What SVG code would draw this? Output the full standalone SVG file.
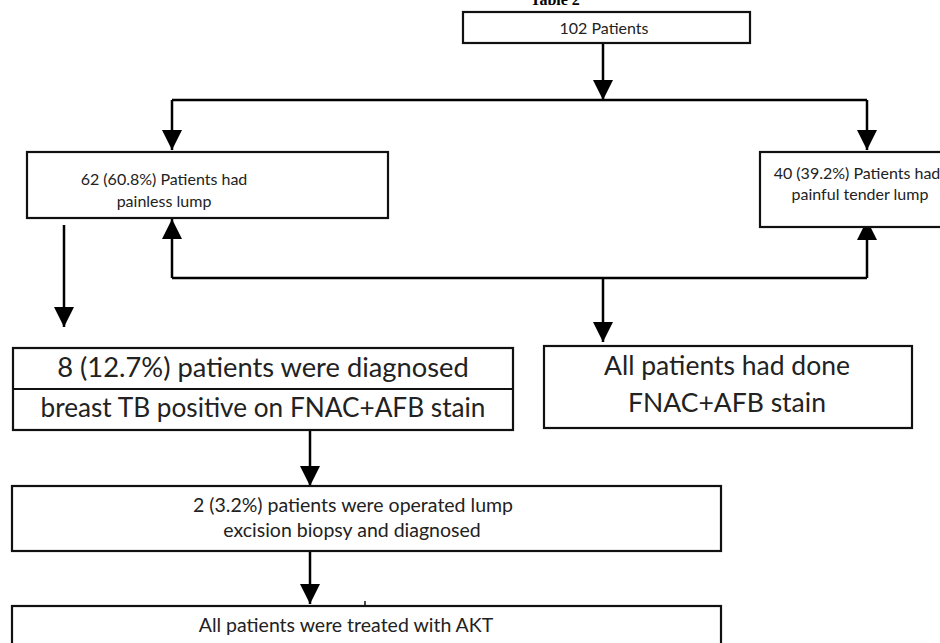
<svg xmlns="http://www.w3.org/2000/svg" width="940" height="643" viewBox="0 0 940 643">
<style>
.box{fill:#fff;stroke:#111;stroke-width:2.2}
.ln{fill:none;stroke:#000;stroke-width:2.5}
.t{font-family:Lato,"Open Sans","Liberation Sans",sans-serif;fill:#222;text-anchor:middle}
.s{font-size:16px}
.m{font-size:19.5px}
.l{font-size:26.5px}
</style>
<defs>
<marker id="arr" viewBox="0 0 20 20" refX="20" refY="10" markerWidth="20" markerHeight="20" markerUnits="userSpaceOnUse" orient="auto">
<path d="M0,0 L20,10 L0,20 Z" fill="#000"/>
</marker>
</defs>
<rect width="940" height="643" fill="#fff"/>
<text x="555" y="5" font-family="Liberation Serif,serif" font-weight="bold" font-size="16" text-anchor="middle" fill="#000">Table 2</text>
<g id="connectors">
<path class="ln" d="M603,43 V100" marker-end="url(#arr)"/>
<path class="ln" d="M172,100 H867"/>
<path class="ln" d="M172,100 V150" marker-end="url(#arr)"/>
<path class="ln" d="M867,100 V150" marker-end="url(#arr)"/>
<path class="ln" d="M172,278 H867"/>
<path class="ln" d="M172,278 V219" marker-end="url(#arr)"/>
<path class="ln" d="M867,278 V220" marker-end="url(#arr)"/>
<path class="ln" d="M603,278 V342" marker-end="url(#arr)"/>
<path class="ln" d="M64,225 V327" marker-end="url(#arr)"/>
<path class="ln" d="M310,430 V486" marker-end="url(#arr)"/>
<path class="ln" d="M310,551 V604" marker-end="url(#arr)"/>
</g>
<g id="n-total">
<rect class="box" x="463" y="12" width="287" height="31"/>
<text class="t s" x="604" y="34">102 Patients</text>
</g>
<g id="n-painless">
<rect class="box" x="27" y="152" width="361" height="66"/>
<text class="t s" x="164" y="185">62 (60.8%) Patients had</text>
<text class="t s" x="164" y="207">painless lump</text>
</g>
<g id="n-painful">
<rect class="box" x="760" y="152" width="200" height="75"/>
<text class="t s" x="857" y="179">40 (39.2%) Patients had</text>
<text class="t s" x="860" y="200">painful tender lump</text>
</g>
<g id="n-positive">
<rect class="box" x="13" y="348" width="500" height="82"/>
<line x1="13" y1="389" x2="513" y2="389" stroke="#111" stroke-width="2"/>
<text class="t l" x="263" y="377" style="font-size:27.3px">8 (12.7%) patients were diagnosed</text>
<text class="t l" x="263" y="417" style="font-size:26.2px">breast TB positive on FNAC+AFB stain</text>
</g>
<g id="n-fnac">
<rect class="box" x="544" y="346" width="368" height="82"/>
<text class="t l" x="727" y="375">All patients had done</text>
<text class="t l" x="727" y="412">FNAC+AFB stain</text>
</g>
<g id="n-operated">
<rect class="box" x="12" y="486" width="709" height="65"/>
<text class="t m" x="353" y="512">2 (3.2%) patients were operated lump</text>
<text class="t m" x="352" y="537">excision biopsy and diagnosed</text>
</g>
<g id="n-akt">
<rect class="box" x="12" y="606" width="709" height="60"/>
<line x1="365" y1="601" x2="365" y2="606" stroke="#111" stroke-width="1.5"/>
<text class="t m" x="346" y="632">All patients were treated with AKT</text>
</g>
</svg>
